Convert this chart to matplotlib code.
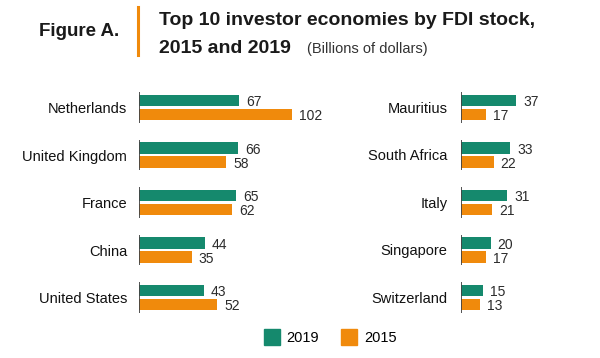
import numpy as np
import matplotlib
matplotlib.use('Agg')
import matplotlib.pyplot as plt
from matplotlib.lines import Line2D

plt.rcParams['font.family'] = ['Liberation Sans', 'DejaVu Sans']

# data (billions of dollars)
left_names = ['Netherlands', 'United Kingdom', 'France', 'China', 'United States']
left_2019 = [67, 66, 65, 44, 43]
left_2015 = [102, 58, 62, 35, 52]

right_names = ['Mauritius', 'South Africa', 'Italy', 'Singapore', 'Switzerland']
right_2019 = [37, 33, 31, 20, 15]
right_2015 = [17, 22, 21, 17, 13]

GREEN = '#15896d'
ORANGE = '#f08a0c'
W, H = 600, 358

fig = plt.figure(figsize=(6, 3.58), dpi=100)


def px_ax(x0, width_px, xmax):
    # axes placed by pixel coords, groups centred on 107.5 + 47.5*i
    top, bottom = 83.75, 321.25
    ax = fig.add_axes([x0 / W, 1 - bottom / H, width_px / W, (bottom - top) / H])
    ax.set_xlim(0, xmax)
    ax.set_ylim(4.5, -0.5)
    return ax


def draw_panel(ax, names, v19, v15, pad_px):
    y = np.arange(len(names))
    off, bh = 0.145, 0.245
    ax.barh(y - off, v19, height=bh, color=GREEN)
    ax.barh(y + off, v15, height=bh, color=ORANGE)
    ax.vlines(np.zeros(len(y)), y - 0.32, y + 0.32, color='#444444', lw=1.3)
    for yi, a, b in zip(y, v19, v15):
        ax.annotate(str(a), (a, yi - off), xytext=(5, -1), textcoords='offset points',
                    va='center', ha='left', fontsize=10, color='#2b2b2b')
        ax.annotate(str(b), (b, yi + off), xytext=(5, -1.5), textcoords='offset points',
                    va='center', ha='left', fontsize=10, color='#2b2b2b')
    ax.set_yticks(y)
    ax.set_yticklabels(names, fontsize=10.5, color='#111111')
    ax.tick_params(axis='y', length=0, pad=pad_px * 0.72)
    ax.set_xticks([])
    for s in ax.spines.values():
        s.set_visible(False)


ax1 = px_ax(139, 200, 200 / 1.5)
draw_panel(ax1, left_names, left_2019, left_2015, 12)
ax2 = px_ax(460.7, 120, 120 / 1.5)
draw_panel(ax2, right_names, right_2019, right_2015, 13)

# header
fig.text(39 / W, 1 - 36.5 / H, 'Figure A.', fontsize=13.5, fontweight='bold',
         ha='left', va='baseline', color='#1a1a1a')
fig.add_artist(Line2D([138 / W, 138 / W], [1 - 7 / H, 1 - 55 / H], color=ORANGE, lw=2.2))
fig.text(159 / W, 1 - 25 / H, 'Top 10 investor economies by FDI stock,', fontsize=14,
         fontweight='bold', ha='left', va='baseline', color='#1a1a1a')
fig.text(159 / W, 1 - 53 / H, '2015 and 2019', fontsize=14, fontweight='bold',
         ha='left', va='baseline', color='#1a1a1a')
fig.text(307 / W, 1 - 53 / H, '(Billions of dollars)', fontsize=10.5,
         ha='left', va='baseline', color='#333333')

handles = [Line2D([], [], ls='', marker='s', markersize=11, color=GREEN),
           Line2D([], [], ls='', marker='s', markersize=11, color=ORANGE)]
fig.legend(handles, ['2019', '2015'], loc='center', bbox_to_anchor=(330.5 / W, 1 - 338 / H),
           ncol=2, frameon=False, fontsize=10.5, handlelength=1.0, handletextpad=0.5,
           columnspacing=1.6)

fig.savefig('out.png', dpi=100)
